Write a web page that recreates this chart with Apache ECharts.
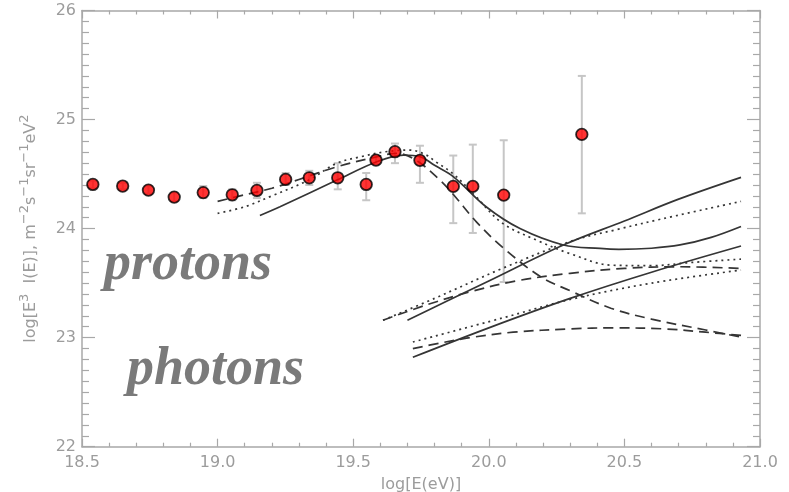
<!DOCTYPE html>
<html>
<head>
<meta charset="utf-8">
<script src="https://cdn.jsdelivr.net/npm/echarts@6/dist/echarts.min.js"></script>
<style>
  html, body { margin: 0; padding: 0; background: #ffffff; }
  #chart { width: 789px; height: 492px; }
</style>
</head>
<body>
<div id="chart"></div>
<script>
// Measured spectrum: log10 energy, log10(E^3 I(E)) and error bar limits
var energy = [18.54, 18.65, 18.745, 18.84, 18.947, 19.054, 19.145, 19.251, 19.338, 19.443, 19.548, 19.584, 19.654, 19.746, 19.869, 19.941, 20.055, 20.343];
var flux   = [24.405, 24.39, 24.353, 24.289, 24.33, 24.31, 24.35, 24.451, 24.466, 24.466, 24.405, 24.628, 24.705, 24.626, 24.387, 24.387, 24.307, 24.864];
var errLow  = [24.37, 24.36, 24.32, 24.25, 24.28, 24.26, 24.28, 24.40, 24.40, 24.36, 24.26, 24.59, 24.60, 24.42, 24.05, 23.96, 23.51, 24.14];
var errHigh = [24.44, 24.42, 24.39, 24.33, 24.39, 24.36, 24.42, 24.51, 24.53, 24.60, 24.51, 24.67, 24.78, 24.76, 24.67, 24.77, 24.81, 25.40];

// Model curves, proton component
var protonSolid = [[19.156, 24.12], [19.23, 24.2], [19.44, 24.445], [19.587, 24.613], [19.685, 24.674], [19.746, 24.66], [19.80, 24.58], [19.87, 24.475], [19.99, 24.2], [20.115, 24.0], [20.275, 23.85], [20.41, 23.818], [20.48, 23.81], [20.6, 23.82], [20.705, 23.85], [20.82, 23.92], [20.93, 24.02]];
var protonDashed = [[19.0, 24.25], [19.1, 24.31], [19.2, 24.37], [19.3, 24.45], [19.44, 24.567], [19.59, 24.66], [19.66, 24.69], [19.73, 24.63], [19.82, 24.445], [19.87, 24.31], [19.955, 24.06], [20.05, 23.83], [20.19, 23.56], [20.3, 23.43], [20.45, 23.27], [20.6, 23.17], [20.8, 23.07], [20.94, 23.0]];
var protonDotted = [[19.0, 24.14], [19.1, 24.2], [19.2, 24.3], [19.34, 24.45], [19.44, 24.6], [19.53, 24.66], [19.62, 24.705], [19.71, 24.72], [19.77, 24.674], [19.80, 24.62], [19.87, 24.5], [19.95, 24.3], [20.05, 24.05], [20.18, 23.89], [20.3, 23.77], [20.45, 23.665], [20.6, 23.66], [20.75, 23.69], [20.93, 23.72]];

// Model curves, photon component (upper and lower sets)
var photonUpperSolid = [[19.70, 23.16], [19.85, 23.34], [20.0, 23.52], [20.275, 23.85], [20.5, 24.07], [20.7, 24.27], [20.93, 24.47]];
var photonUpperDotted = [[19.61, 23.16], [19.8, 23.36], [20.05, 23.635], [20.31, 23.89], [20.47, 23.99], [20.64, 24.09], [20.93, 24.25]];
var photonUpperDashed = [[19.61, 23.16], [19.77, 23.30], [19.93, 23.42], [20.1, 23.52], [20.3, 23.59], [20.5, 23.635], [20.7, 23.65], [20.93, 23.635]];
var photonLowerSolid = [[19.72, 22.82], [20.0, 23.09], [20.3, 23.36], [20.6, 23.6], [20.93, 23.84]];
var photonLowerDotted = [[19.72, 22.96], [20.05, 23.18], [20.3, 23.35], [20.6, 23.5], [20.93, 23.62]];
var photonLowerDashed = [[19.72, 22.90], [19.82, 22.95], [19.93, 23.0], [20.09, 23.05], [20.3, 23.08], [20.46, 23.09], [20.65, 23.08], [20.8, 23.05], [20.93, 23.02]];

var xTicks = { min: 18.5, max: 21.0, step: 0.5 };
var yTicks = { min: 22, max: 26, step: 1 };

var axisGray = '#a8a8a8';
var textGray = '#9c9c9c';
var curveColor = '#353535';

function curve(data, type) {
  var dash = type === 'dashed' ? [10, 6] : (type === 'dotted' ? [2, 4] : 'solid');
  return {
    type: 'line', data: data, showSymbol: false, smooth: 0.35, z: 3,
    silent: true,
    lineStyle: { color: curveColor, width: 1.7, type: dash }
  };
}

var errData = energy.map(function (e, i) { return [e, errLow[i], errHigh[i]]; });
var pointData = energy.map(function (e, i) { return [e, flux[i]]; });

function xAxisDef(pos, showLabels) {
  return {
    type: 'value', position: pos, min: xTicks.min, max: xTicks.max, interval: xTicks.step,
    axisLine: { show: true, onZero: false, lineStyle: { color: axisGray, width: 1.5 } },
    axisTick: { show: true, inside: true, length: 8, lineStyle: { color: axisGray, width: 1.2 } },
    minorTick: { show: true, splitNumber: 5, length: 4, lineStyle: { color: axisGray, width: 1.2 } },
    splitLine: { show: false },
    axisLabel: { show: showLabels, color: textGray, fontSize: 16, fontFamily: 'DejaVu Sans', margin: 8,
      formatter: function (v) { return v.toFixed(1); } },
    name: showLabels ? 'log[E(eV)]' : '',
    nameLocation: 'middle', nameGap: 30,
    nameTextStyle: { color: textGray, fontSize: 16, fontFamily: 'DejaVu Sans' }
  };
}

function yAxisDef(pos, showLabels) {
  return {
    type: 'value', position: pos, min: yTicks.min, max: yTicks.max, interval: yTicks.step,
    axisLine: { show: true, onZero: false, lineStyle: { color: axisGray, width: 1.5 } },
    axisTick: { show: true, inside: true, length: 13, lineStyle: { color: axisGray, width: 1.2 } },
    minorTick: { show: true, splitNumber: 10, length: 7, lineStyle: { color: axisGray, width: 1.2 } },
    splitLine: { show: false },
    axisLabel: { show: showLabels, color: textGray, fontSize: 16, fontFamily: 'DejaVu Sans', margin: 6 },
    name: showLabels ? 'log[E{s|3}  I(E)], m{s|\u22122}s{s|\u22121}sr{s|\u22121}eV{s|2}' : '',
    nameLocation: 'middle', nameGap: 33, nameRotate: 90,
    nameTextStyle: {
      color: textGray, fontSize: 16, fontFamily: 'DejaVu Sans', lineHeight: 27, verticalAlign: 'bottom',
      rich: { s: { fontSize: 13, color: textGray, fontFamily: 'DejaVu Sans', verticalAlign: 'top', lineHeight: 27 } }
    }
  };
}

var chart = echarts.init(document.getElementById('chart'), null, { renderer: 'canvas' });
chart.setOption({
  backgroundColor: '#ffffff',
  animation: false,
  grid: { left: 82, right: 29, top: 10.5, bottom: 45.3, containLabel: false, outerBoundsMode: 'none' },
  xAxis: [xAxisDef('bottom', true), xAxisDef('top', false)],
  yAxis: [yAxisDef('left', true), yAxisDef('right', false)],
  graphic: [
    { type: 'text', left: 104, top: 238, z: 10,
      style: { text: 'protons', fill: '#7a7a7a', font: 'italic bold 54px "Liberation Serif"' } },
    { type: 'text', left: 127, top: 343, z: 10,
      style: { text: 'photons', fill: '#7a7a7a', font: 'italic bold 54px "Liberation Serif"' } }
  ],
  series: [
    {
      type: 'custom', data: errData, z: 1, silent: true,
      renderItem: function (params, api) {
        var x = api.value(0);
        var lo = api.coord([x, api.value(1)]);
        var hi = api.coord([x, api.value(2)]);
        var cap = 4;
        var st = { stroke: '#c6c6c6', lineWidth: 2 };
        return { type: 'group', children: [
          { type: 'line', shape: { x1: lo[0], y1: lo[1], x2: hi[0], y2: hi[1] }, style: st },
          { type: 'line', shape: { x1: lo[0] - cap, y1: lo[1], x2: lo[0] + cap, y2: lo[1] }, style: st },
          { type: 'line', shape: { x1: hi[0] - cap, y1: hi[1], x2: hi[0] + cap, y2: hi[1] }, style: st }
        ] };
      }
    },
    curve(protonSolid, 'solid'),
    curve(protonDashed, 'dashed'),
    curve(protonDotted, 'dotted'),
    curve(photonUpperSolid, 'solid'),
    curve(photonUpperDotted, 'dotted'),
    curve(photonUpperDashed, 'dashed'),
    curve(photonLowerSolid, 'solid'),
    curve(photonLowerDotted, 'dotted'),
    curve(photonLowerDashed, 'dashed'),
    {
      type: 'scatter', data: pointData, z: 5, symbol: 'circle', symbolSize: 11.5,
      itemStyle: { color: '#ff0000', borderColor: '#000000', borderWidth: 1.8 }
    }
  ]
});
</script>
</body>
</html>
